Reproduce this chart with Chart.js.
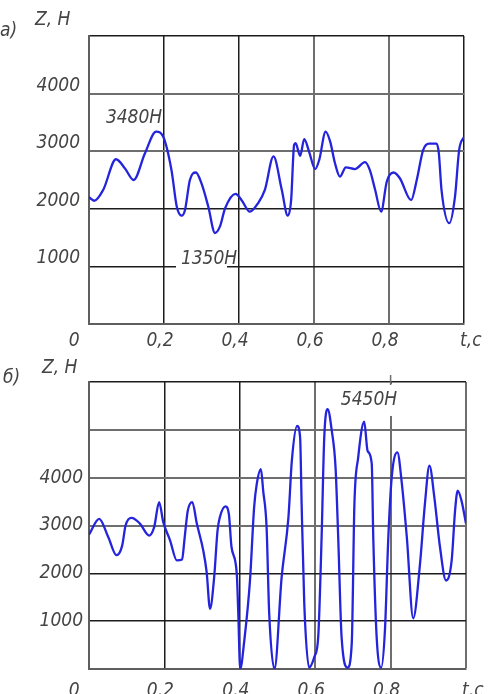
<!DOCTYPE html>
<html><head><meta charset="utf-8">
<script src="https://cdn.jsdelivr.net/npm/chart.js@4.4.1/dist/chart.umd.min.js"></script>
<style>
html,body{margin:0;padding:0;background:#fff;width:492px;height:694px;overflow:hidden}
canvas{position:absolute;left:0}
#ca{top:0}
#cb{top:355px}
</style></head><body>
<canvas id="ca" width="492" height="355"></canvas>
<canvas id="cb" width="492" height="339"></canvas>
<script>
// ---- data: chart а) ----
const tA = [0.000,0.014,0.038,0.072,0.096,0.119,0.149,0.179,0.198,0.220,0.234,0.247,0.256,0.269,0.285,0.300,0.318,0.336,0.349,0.363,0.391,0.407,0.429,0.451,0.469,0.492,0.514,0.530,0.539,0.547,0.551,0.563,0.574,0.587,0.603,0.614,0.631,0.643,0.656,0.669,0.685,0.709,0.736,0.749,0.763,0.779,0.794,0.812,0.829,0.859,0.874,0.891,0.907,0.927,0.933,0.940,0.961,0.976,0.987,1.000];
const zA = [2200,2140,2330,2860,2700,2500,2960,3340,3250,2670,2040,1880,1980,2500,2630,2440,2040,1580,1690,2010,2260,2150,1950,2100,2330,2910,2330,1880,2150,3110,3140,2920,3210,2990,2690,2850,3340,3170,2790,2560,2720,2690,2810,2670,2330,1950,2470,2630,2530,2150,2500,3020,3130,3130,2960,2330,1750,2210,3020,3250];
// ---- data: chart б) ----
const tB = [0.000,0.027,0.051,0.073,0.088,0.097,0.113,0.135,0.160,0.173,0.186,0.197,0.215,0.233,0.247,0.253,0.262,0.274,0.286,0.303,0.312,0.321,0.332,0.341,0.347,0.362,0.371,0.378,0.392,0.396,0.401,0.412,0.427,0.438,0.445,0.456,0.462,0.471,0.478,0.492,0.511,0.529,0.538,0.552,0.560,0.564,0.571,0.584,0.598,0.608,0.617,0.624,0.633,0.644,0.654,0.661,0.670,0.686,0.697,0.704,0.714,0.730,0.739,0.750,0.754,0.763,0.775,0.785,0.794,0.803,0.818,0.829,0.843,0.860,0.878,0.891,0.903,0.916,0.931,0.947,0.962,0.971,0.978,0.988,1.000];
const zB = [2810,3140,2760,2380,2580,3000,3160,3040,2790,2970,3490,3070,2690,2270,2290,2690,3310,3490,3040,2480,2030,1260,1920,2900,3170,3400,3240,2550,1990,1160,0,600,1850,3380,3870,4180,3730,2970,1160,0,1920,3170,4350,5080,4840,3450,1370,30,260,670,2760,4840,5430,4980,4210,2760,670,30,540,3450,4420,5170,4560,4290,2760,670,30,810,2760,4010,4530,3940,2760,1060,2200,3450,4250,3590,2550,1850,2270,3310,3730,3520,3040];
// ---- tick labels ----
const xTickValues = [0,0.2,0.4,0.6,0.8,1.0];
const xTickLabels = ['0    ','0,2','0,4','0,6','0,8','    t,с'];
const yTickLabels = [1000,2000,3000,4000];

const FAM = "'Liberation Sans Narrow','DejaVu Sans Condensed','Liberation Sans',sans-serif";
const FS = 19;
const TXT = '#444444';
const BLK = '#1c1c1c', GRY = '#6e6e6e';

function xLabel(v){
  for(let i=0;i<xTickValues.length;i++){ if(Math.abs(v-xTickValues[i])<1e-6) return xTickLabels[i]; }
  return '';
}
function yLabel(v){ return yTickLabels.indexOf(Math.round(v))>=0 ? String(Math.round(v)) : ''; }
function pick(map, v){
  for(const k in map){ if(Math.abs(parseFloat(k)-v)<1e-6) return map[k]; }
  return 'rgba(0,0,0,0)';
}

function makeChart(id, t, z, ymax, pad, xH, ycols, xcols, yLabOff, yPad, xPad, plugin){
  const pts = t.map((tv,i)=>({x:tv,y:z[i]}));
  return new Chart(document.getElementById(id),{
    type:'line',
    data:{datasets:[{data:pts,borderColor:'#2424dc',borderWidth:2.3,pointRadius:0,fill:false,cubicInterpolationMode:'monotone'}]},
    options:{
      responsive:false, animation:false, devicePixelRatio:1,
      layout:{padding:pad},
      plugins:{legend:{display:false},tooltip:{enabled:false}},
      scales:{
        x:{type:'linear',min:0,max:1,
          afterFit:s=>{s.height=xH;s.paddingLeft=0;s.paddingRight=0;},
          ticks:{stepSize:0.2,autoSkip:false,maxRotation:0,padding:xPad,labelOffset:-4,color:TXT,
            font:{family:FAM,size:FS,style:'italic'},callback:v=>xLabel(v)},
          grid:{drawTicks:false,color:c=>pick(xcols,c.tick?c.tick.value:-1),lineWidth:c=>pick(xcols,c.tick?c.tick.value:-1)===GRY?2:1.5},
          border:{color:'#5e5e5e',width:2}},
        y:{min:0,max:ymax,
          afterFit:s=>{s.width=89;s.paddingTop=0;s.paddingBottom=0;},
          ticks:{stepSize:1000,autoSkip:false,padding:yPad,labelOffset:yLabOff,color:TXT,
            font:{family:FAM,size:FS,style:'italic'},callback:v=>yLabel(v)},
          grid:{drawTicks:false,color:c=>pick(ycols,c.tick?c.tick.value:-1),lineWidth:c=>pick(ycols,c.tick?c.tick.value:-1)===GRY?2:1.5},
          border:{color:'#5e5e5e',width:2}}
      }
    },
    plugins:[plugin]
  });
}

function txt(ctx, s, x, y, align){
  ctx.font = "italic " + FS + "px " + FAM;
  ctx.fillStyle = TXT; ctx.textAlign = align||'left'; ctx.textBaseline='middle';
  ctx.fillText(s, x, y);
}

const notesA = {
  id:'notesA',
  beforeDatasetsDraw(chart){
    const {ctx, scales:{x,y}} = chart;
    ctx.save(); ctx.fillStyle='#fff';
    const x0=x.getPixelForValue(0.232), x1=x.getPixelForValue(0.368), yy=y.getPixelForValue(1000);
    ctx.fillRect(x0, yy-3, x1-x0, 6);
    ctx.restore();
  },
  afterDraw(chart){
    const {ctx, scales:{x,y}} = chart;
    ctx.save();
    txt(ctx,'а)',0,31);
    txt(ctx,'Z, Н',35,20);
    txt(ctx,'3480Н',x.getPixelForValue(0.045),y.getPixelForValue(3580));
    ctx.textBaseline='alphabetic';
    ctx.fillText('1350Н',x.getPixelForValue(0.245),y.getPixelForValue(1000)-2);
    ctx.restore();
  }
};
const notesB = {
  id:'notesB',
  beforeDatasetsDraw(chart){
    const {ctx, scales:{x,y}, chartArea} = chart;
    ctx.save();
    const xx=x.getPixelForValue(0.8);
    ctx.fillStyle='#fff';
    ctx.fillRect(xx-2, chartArea.top+2, 4, y.getPixelForValue(5290)-chartArea.top-2);
    ctx.strokeStyle=GRY; ctx.lineWidth=1.5;
    ctx.beginPath(); ctx.moveTo(xx, chartArea.top-7); ctx.lineTo(xx, chartArea.top+3); ctx.stroke();
    ctx.restore();
  },
  afterDraw(chart){
    const {ctx, scales:{x,y}} = chart;
    ctx.save();
    txt(ctx,'б)',3,23);
    txt(ctx,'Z, Н',42,13);
    txt(ctx,'5450Н',x.getPixelForValue(0.668),y.getPixelForValue(5625));
    ctx.restore();
  }
};

makeChart('ca', tA, zA, 5000, {top:36,right:28,left:0,bottom:0}, 31,
  {5000:BLK,4000:GRY,3000:GRY,2000:BLK,1000:BLK},
  {0.2:BLK,0.4:BLK,0.6:GRY,0.8:GRY,1:BLK}, -8, 9, 6, notesA);
makeChart('cb', tB, zB, 6000, {top:27,right:26,left:0,bottom:0}, 25,
  {6000:BLK,5000:GRY,4000:GRY,3000:GRY,2000:BLK,1000:BLK},
  {0.2:BLK,0.4:BLK,0.6:GRY,0.8:GRY,1:GRY}, 0, 6, 11, notesB);
</script>
</body></html>
